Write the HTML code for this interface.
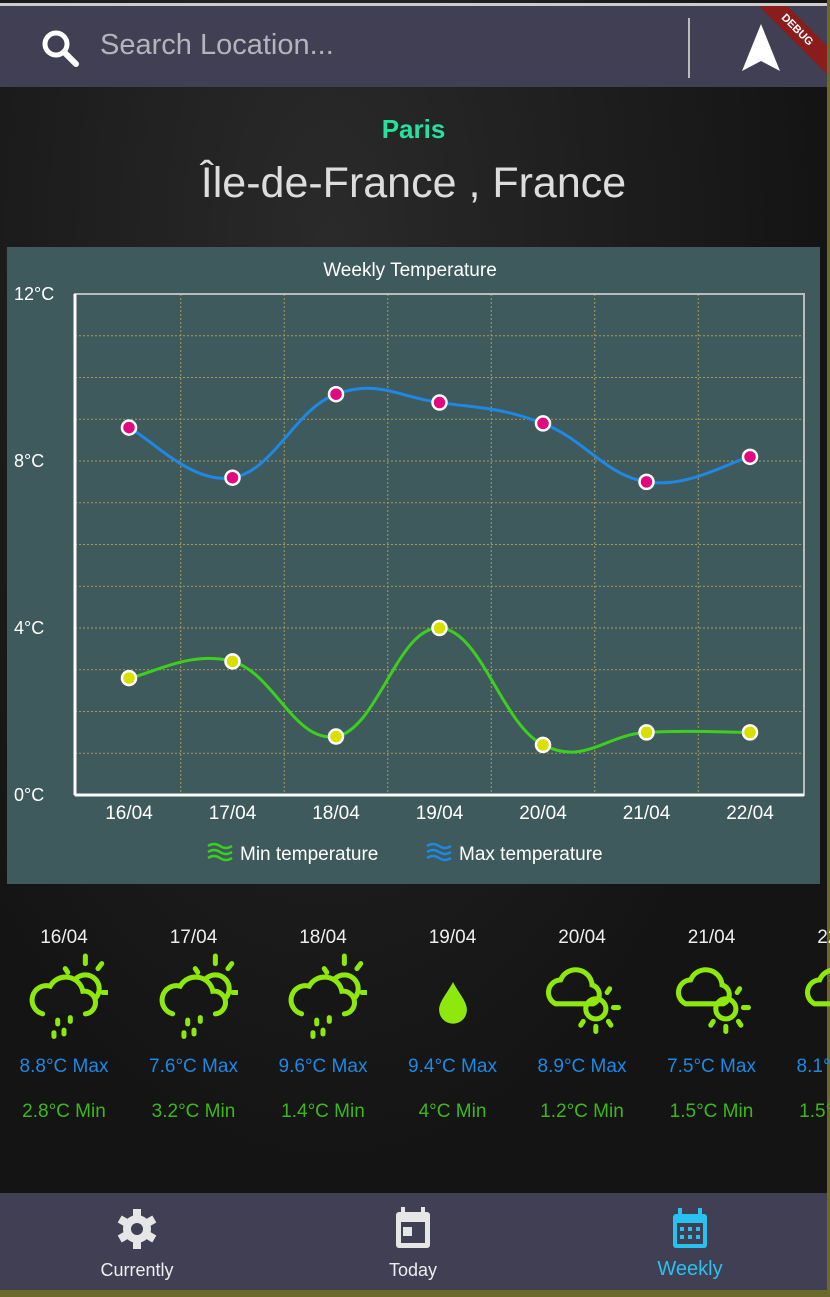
<!DOCTYPE html>
<html><head><meta charset="utf-8"><style>
body{margin:0;width:830px;height:1297px;overflow:hidden;background:#6b6a2a;font-family:"Liberation Sans",sans-serif;position:relative}
.bg{position:absolute;left:0;top:0;width:827px;height:1193px;background:radial-gradient(ellipse at 40% 20%,#2a2a2a,#141414 70%)}
.top{position:absolute;left:0;top:3px;width:827px;height:84px;background:#403f53;border-top:3px solid #ccc;box-sizing:border-box;overflow:hidden}
.nav{position:absolute;left:0;top:1193px;width:827px;height:97px;background:#403f53}
.day{position:absolute;width:120px;text-align:center;font-size:19px}
#days{position:absolute;left:0;top:0;width:830px;height:1297px;overflow:hidden}
</style></head><body>
<div class="bg"></div>
<div class="top">
<svg style="position:absolute;left:40px;top:22px" width="42" height="42"><circle cx="16" cy="16" r="11" fill="none" stroke="#fff" stroke-width="5"/><line x1="24" y1="24" x2="36" y2="36" stroke="#fff" stroke-width="6" stroke-linecap="round"/></svg>
<div style="position:absolute;left:100px;top:23px;font-size:29px;color:#b5b4bc">Search Location...</div>
<div style="position:absolute;left:688px;top:12px;width:2px;height:60px;background:#bbb"></div>
<svg style="position:absolute;left:740px;top:15px" width="44" height="54"><polygon points="21,3 40,50 21,40 2,50" fill="#fff"/></svg>
<div style="position:absolute;left:742px;top:14px;width:110px;height:20px;background:#8b1c1c;color:#fff;font-size:11px;font-weight:bold;text-align:center;line-height:20px;transform:rotate(45deg)">DEBUG</div>
</div>
<div style="position:absolute;left:0;width:827px;top:114px;text-align:center;font-size:26px;font-weight:bold;color:#26e0a0">Paris</div>
<div style="position:absolute;left:0;width:827px;top:159px;text-align:center;font-size:43px;color:#ddd">Île-de-France , France</div>

<svg id="chart" style="position:absolute;left:0;top:0" width="830" height="900"></svg>

<div id="days"></div>

<div class="nav">
<div style="position:absolute;left:77px;top:14px;width:120px;text-align:center">
<svg width="44" height="44"><g transform="translate(22,22)" fill="#e6e6e6"><circle r="14"/><g><rect x="-4" y="-20" width="8" height="9"/><rect x="-4" y="-20" width="8" height="9" transform="rotate(60)"/><rect x="-4" y="-20" width="8" height="9" transform="rotate(120)"/><rect x="-4" y="-20" width="8" height="9" transform="rotate(180)"/><rect x="-4" y="-20" width="8" height="9" transform="rotate(240)"/><rect x="-4" y="-20" width="8" height="9" transform="rotate(300)"/></g><circle r="6" fill="#403f53"/></g></svg>
<div style="color:#eee;font-size:18px;margin-top:4px">Currently</div></div>
<div style="position:absolute;left:353px;top:12px;width:120px;text-align:center">
<svg width="44" height="46"><rect x="5" y="7" width="34" height="36" rx="3" fill="#e6e6e6"/><rect x="10" y="2" width="4" height="8" fill="#e6e6e6"/><rect x="30" y="2" width="4" height="8" fill="#e6e6e6"/><rect x="10" y="17" width="24" height="21" fill="#403f53"/><rect x="12" y="22" width="9" height="9" fill="#e6e6e6"/></svg>
<div style="color:#eee;font-size:18px;margin-top:4px">Today</div></div>
<div style="position:absolute;left:630px;top:12px;width:120px;text-align:center">
<svg width="44" height="46"><rect x="5" y="9" width="34" height="34" rx="3" fill="#29c2f0"/><rect x="10" y="3" width="4" height="8" fill="#29c2f0"/><rect x="30" y="3" width="4" height="8" fill="#29c2f0"/><rect x="9" y="18" width="26" height="21" fill="#403f53"/><g fill="#29c2f0"><rect x="12" y="22" width="4" height="4"/><rect x="20" y="22" width="4" height="4"/><rect x="28" y="22" width="4" height="4"/><rect x="12" y="30" width="4" height="4"/><rect x="20" y="30" width="4" height="4"/><rect x="28" y="30" width="4" height="4"/></g></svg>
<div style="color:#29c2f0;font-size:20px;margin-top:2px">Weekly</div></div>
</div>

<script>
const categories=["16/04","17/04","18/04","19/04","20/04","21/04","22/04"];
const maxTemps=[8.8,7.6,9.6,9.4,8.9,7.5,8.1];
const minTemps=[2.8,3.2,1.4,4,1.2,1.5,1.5];
const yTicks=[0,4,8,12];
const icons=["rain-sun","rain-sun","rain-sun","drop","cloud-sun","cloud-sun","cloud-sun"];
const NS="http://www.w3.org/2000/svg";
const svg=document.getElementById('chart');
const L=75,R=804,T=294,B=795,yMax=12;
const xs=i=>129+i*(750-129)/(categories.length-1);
const ys=v=>B-(v/yMax)*(B-T);
function mk(t,a,p){const e=document.createElementNS(NS,t);for(const k in a)e.setAttribute(k,a[k]);(p||svg).appendChild(e);return e;}
const panel=mk('rect',{x:7,y:247,width:813,height:637,fill:'#3f5a5c'});


const title=mk('text',{x:410,y:276,'text-anchor':'middle',fill:'#fff','font-size':19});
title.textContent='Weekly Temperature';


for(let v=1;v<yMax;v++){const g=mk('line',{x1:L,x2:R,y1:ys(v),y2:ys(v),stroke:'#a89a5a','stroke-width':1,'stroke-dasharray':'2,2'});

}
for(let i=0;i<categories.length-1;i++){const x=(xs(i)+xs(i+1))/2;const g=mk('line',{x1:x,x2:x,y1:T,y2:B,stroke:'#a89a5a','stroke-width':1,'stroke-dasharray':'2,2'});

}
const frame=mk('rect',{x:L,y:T,width:R-L,height:B-T,fill:'none',stroke:'#bbb','stroke-width':2});


mk('line',{x1:L,x2:L,y1:T,y2:B,stroke:'#fff','stroke-width':3});
mk('line',{x1:L,x2:R,y1:B,y2:B,stroke:'#fff','stroke-width':3});
yTicks.forEach(v=>{const t=mk('text',{x:14,y:ys(v)+6,fill:'#fff','font-size':18});t.textContent=v+'°C';

});
categories.forEach((c,i)=>{const t=mk('text',{x:xs(i),y:819,'text-anchor':'middle',fill:'#fff','font-size':19});t.textContent=c;

});
function smooth(vals){const p=vals.map((v,i)=>[xs(i),ys(v)]);let d='M'+p[0];for(let i=0;i<p.length-1;i++){const p0=p[i-1]||p[i],p1=p[i],p2=p[i+1],p3=p[i+2]||p2;const k=0.2;
d+=' C'+(p1[0]+(p2[0]-p0[0])*k)+','+(p1[1]+(p2[1]-p0[1])*k)+' '+(p2[0]-(p3[0]-p1[0])*k)+','+(p2[1]-(p3[1]-p1[1])*k)+' '+p2;}return d;}
const maxLine=mk('path',{d:smooth(maxTemps),fill:'none',stroke:'#1e88e5','stroke-width':3});


const minLine=mk('path',{d:smooth(minTemps),fill:'none',stroke:'#3ccf1e','stroke-width':3});


maxTemps.forEach((v,i)=>{const c=mk('circle',{cx:xs(i),cy:ys(v),r:7,fill:'#e2087e',stroke:'#fff','stroke-width':2.5});

});
minTemps.forEach((v,i)=>{const c=mk('circle',{cx:xs(i),cy:ys(v),r:7,fill:'#d9e000',stroke:'#fff','stroke-width':2.5});

});
function legend(x,col,label,name){const g=mk('g',{});


for(let k=0;k<3;k++)mk('path',{d:`M${x} ${846+k*6} q6 -4 12 0 q6 4 12 0`,fill:'none',stroke:col,'stroke-width':2.5},g);
const t=mk('text',{x:x+32,y:860,fill:'#fff','font-size':19},g);t.textContent=label;}
legend(208,'#3ccf1e','Min temperature','legend-min');
legend(427,'#1e88e5','Max temperature','legend-max');

const days=document.getElementById('days');
const G='#8ee80e';
function icon(type){
 const o='<svg width="88" height="88" viewBox="0 0 70 70">';
 if(type==='drop')return o+`<path d="M35 22 C30 32 22 40 22 48 a13 13 0 0 0 26 0 C48 40 40 32 35 22Z" fill="${G}" transform="translate(35,40) scale(0.85) translate(-35,-40)"/></svg>`;
 if(type==='rain-sun')return o+`<g stroke="${G}" stroke-width="4" stroke-linecap="round" fill="none"><line x1="52" y1="4" x2="52" y2="10"/><line x1="66" y1="33" x2="70" y2="33"/><line x1="62" y1="14" x2="65" y2="10"/><line x1="36" y1="14" x2="38" y2="17"/><circle cx="52" cy="30" r="11"/><path d="M18 50 a11 11 0 0 1 6 -22 a14 14 0 0 1 26 4 a9 9 0 0 1 2 18" fill="#161616"/><line x1="30" y1="55" x2="30" y2="58"/><line x1="40" y1="53" x2="40" y2="56"/><line x1="35" y1="63" x2="35" y2="66"/><line x1="27" y1="65" x2="27" y2="68"/></g></svg>`;
 return o+`<g stroke="${G}" stroke-width="4" stroke-linecap="round" fill="none"><path d="M14 42 a10 10 0 0 1 4 -19 a13 13 0 0 1 25 4 a8 8 0 0 1 1 15 Z"/><circle cx="46" cy="46" r="8"/><line x1="60" y1="45" x2="64" y2="45"/><line x1="55" y1="33" x2="57" y2="30"/><line x1="46" y1="60" x2="46" y2="64"/><line x1="36" y1="56" x2="34" y2="59"/><line x1="56" y1="56" x2="58" y2="59"/></g></svg>`;
}
categories.forEach((c,i)=>{const cx=64+i*129.5;
 const d=document.createElement('div');d.className='day';d.style.left=(cx-60)+'px';d.style.top='927px';
 
 
 d.innerHTML=`<div style="color:#eee">${c}</div><div style="height:89px;margin-top:2px">${icon(icons[i])}</div><div style="color:#1e88e5;margin-top:16px">${maxTemps[i]}°C Max</div><div style="color:#3cb81a;margin-top:23px">${minTemps[i]}°C Min</div>`;
 days.appendChild(d);});
</script>
</body></html>
